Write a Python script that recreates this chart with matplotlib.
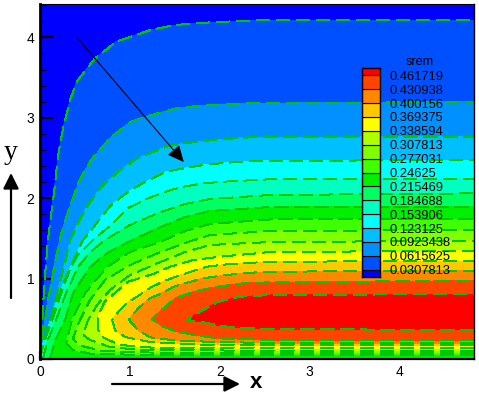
import matplotlib
matplotlib.use('Agg')
import matplotlib.pyplot as plt
import numpy as np

from matplotlib.ticker import MultipleLocator

plt.rcParams['font.family'] = ['Liberation Sans', 'DejaVu Sans']

level_labels = ['0.0307813', '0.0615625', '0.0923438', '0.123125', '0.153906',
                '0.184688', '0.215469', '0.24625', '0.277031', '0.307813',
                '0.338594', '0.369375', '0.400156', '0.430938', '0.461719']

band_colors = ['#0000ff', '#0050ff', '#0090ff', '#00bfff', '#00ffff', '#00ffc0',
               '#00ff60', '#00f000', '#40ff00', '#80ff00', '#b0ff00', '#ffff00',
               '#ffc800', '#ff8800', '#ff4400', '#ff0000']

# contour lines, one (x, y) list per level,
# upper branch left to right, lower branch only for the closed ones
upper_1 = [(0, 0), (.017, .236), (.033, .647), (.052, .983), (.07, 1.23), (.089, 1.48), (.134, 1.89),
           (.159, 2.1), (.2, 2.52), (.26, 2.89), (.334, 3.22), (.409, 3.45), (.612, 3.74), (.854, 3.95),
           (1.225, 4.09), (1.48, 4.15), (1.78, 4.18), (2.34, 4.21), (4.83, 4.216)]
upper_2 = [(0, 0), (.015, .2), (.052, .45), (.089, .73), (.126, .945), (.164, 1.19), (.219, 1.48),
           (.256, 1.64), (.349, 1.95), (.442, 2.23), (.568, 2.475), (.79, 2.76), (1.013, 2.95),
           (1.225, 3.03), (1.525, 3.12), (1.78, 3.15), (2.34, 3.18), (4.83, 3.2)]
upper_3 = [(0, 0), (.015, .15), (.07, .32), (.126, .525), (.181, .775), (.237, 1.02), (.293, 1.27),
           (.337, 1.48), (.423, 1.69), (.535, 1.915), (.683, 2.14), (.869, 2.33), (1.09, 2.5),
           (1.225, 2.56), (1.41, 2.64), (1.59, 2.68), (1.97, 2.73), (2.34, 2.757), (4.83, 2.765)]
upper_4 = [(0, 0), (.052, .236), (.126, .444), (.2, .693), (.275, .94), (.331, 1.107), (.386, 1.27),
           (.479, 1.48), (.571, 1.6), (.683, 1.77), (.794, 1.915), (.98, 2.08), (1.166, 2.2),
           (1.41, 2.33), (1.596, 2.37), (1.856, 2.42), (2.34, 2.463), (4.83, 2.475)]
upper_5 = [(0, 0), (.022, .15), (.078, .36), (.145, .585), (.223, .833), (.312, 1.082), (.423, 1.294),
           (.59, 1.48), (.776, 1.654), (.869, 1.754), (.98, 1.878), (1.203, 2.0), (1.448, 2.1),
           (1.592, 2.143), (1.815, 2.185), (2.038, 2.205), (2.561, 2.235), (4.83, 2.239)]
upper_6 = [(.03, 0), (.089, .236), (.178, .485), (.29, .82), (.423, 1.144), (.557, 1.33), (.724, 1.48),
           (1.002, 1.667), (1.314, 1.816), (1.615, 1.928), (1.893, 1.99), (2.561, 2.04), (4.83, 2.06)]
upper_7 = [(.11, 0), (.17, .236), (.278, .485), (.367, .82), (.557, 1.144), (.746, 1.318), (.98, 1.455),
           (1.314, 1.629), (1.615, 1.766), (1.893, 1.841), (2.561, 1.89), (4.83, 1.895)]
upper_8 = [(.29, .2), (.356, .485), (.501, .82), (.746, 1.144), (1.002, 1.33), (1.336, 1.455),
           (1.615, 1.592), (1.893, 1.68), (2.561, 1.735), (4.83, 1.74)]
lower_8 = [(.29, .2), (.37, .112), (.557, .068), (1.114, .05), (4.83, .05)]
upper_9 = [(.367, .257), (.445, .485), (.557, .734), (.724, .983), (1.002, 1.169), (1.314, 1.318),
           (1.615, 1.443), (1.893, 1.542), (2.561, 1.592), (4.83, 1.604)]
lower_9 = [(.367, .257), (.423, .174), (.668, .106), (1.114, .081), (4.83, .075)]
upper_10 = [(.479, .3), (.535, .485), (.635, .672), (.78, .858), (1.002, 1.045), (1.314, 1.194),
            (1.615, 1.331), (1.893, 1.418), (2.561, 1.455), (4.83, 1.47)]
lower_10 = [(.479, .3), (.557, .236), (.78, .15), (1.114, .112), (2.895, .1), (4.83, .1)]
upper_11 = [(.646, .506), (.665, .588), (.72, .713), (.85, .837), (.98, .961), (1.281, 1.066), (1.448, 1.148),
            (1.707, 1.231), (2.004, 1.272), (2.561, 1.331), (4.83, 1.346)]
lower_11 = [(.646, .506), (.646, .361), (.713, .261), (.891, .174), (1.225, .143), (2.895, .131), (4.83, .131)]
upper_12 = [(.802, .485), (.888, .61), (.98, .709), (1.091, .783), (1.24, .895), (1.411, .983),
            (1.634, 1.07), (1.856, 1.148), (2.116, 1.182), (2.561, 1.21), (4.83, 1.219)]
lower_12 = [(.802, .485), (.835, .361), (.947, .274), (1.225, .211), (1.782, .18), (2.895, .168), (4.83, .168)]
upper_13 = [(.988, .485), (1.091, .631), (1.225, .759), (1.314, .796), (1.481, .896), (1.615, .942),
            (1.815, 1.004), (2.079, 1.045), (2.339, 1.073), (2.561, 1.086), (4.83, 1.098)]
lower_13 = [(.988, .485), (1.091, .361), (1.225, .27), (1.514, .23), (1.96, .211), (2.895, .193), (4.83, .195)]
upper_14 = [(1.244, .494), (1.392, .65), (1.503, .755), (1.707, .837), (1.968, .899), (2.26, .942),
            (2.56, .954), (4.83, .974)]
lower_14 = [(1.244, .494), (1.373, .402), (1.522, .34), (1.704, .3), (1.968, .257), (2.56, .236), (4.83, .236)]
upper_15 = [(1.634, .485), (1.782, .588), (1.985, .713), (2.227, .775), (2.561, .796), (4.83, .808)]
lower_15 = [(1.634, .485), (1.782, .464), (2.004, .414), (2.19, .389), (2.56, .373), (4.83, .36)]

uppers = [upper_1, upper_2, upper_3, upper_4, upper_5, upper_6, upper_7, upper_8,
          upper_9, upper_10, upper_11, upper_12, upper_13, upper_14, upper_15]
lowers = [None, None, None, None, None, None, None, lower_8,
          lower_9, lower_10, lower_11, lower_12, lower_13, lower_14, lower_15]

WIDTH, HEIGHT = 479, 394
figure = plt.figure(figsize=(WIDTH / 100, HEIGHT / 100), dpi=100)

ax = figure.add_axes([40 / WIDTH, 1 - 359 / HEIGHT, 434 / WIDTH, 355 / HEIGHT])
ax.set_xlim(0, 4.83)
ax.set_ylim(0, 4.415)
ax.set_facecolor(band_colors[0])

for i, upper in enumerate(uppers):
    ux, uy = zip(*upper)
    if lowers[i] is None:
        px = list(ux) + [4.83, 0]
        py = list(uy) + [0, 0]
    else:
        lx, ly = zip(*lowers[i])
        px = list(ux) + list(lx[::-1])
        py = list(uy) + list(ly[::-1])
    ax.fill(px, py, color=band_colors[i + 1], lw=0, antialiased=False, zorder=i + 1)

# lines start at the right edge so the gaps of the flat part stack up
for i, upper in enumerate(uppers):
    ux, uy = zip(*upper)
    if lowers[i] is not None:
        lx, ly = zip(*lowers[i])
        ux = list(lx[::-1]) + list(ux[1:])
        uy = list(ly[::-1]) + list(uy[1:])
    ax.plot(ux, uy, color='#00c800', lw=1, dashes=(9.5, 4.5), antialiased=False, zorder=20)

ax.xaxis.set_major_locator(MultipleLocator(1))
ax.yaxis.set_major_locator(MultipleLocator(1))
ax.xaxis.set_minor_locator(MultipleLocator(.2))
ax.yaxis.set_minor_locator(MultipleLocator(.2))
ax.tick_params(axis='x', which='major', direction='in', length=6, width=1.6, labelsize=10, pad=4)
ax.tick_params(axis='x', which='minor', direction='in', length=3, width=.8)
ax.tick_params(axis='y', which='major', direction='in', length=9, width=1.6, labelsize=10, pad=4)
ax.tick_params(axis='y', which='minor', direction='in', length=4.5, width=.8)
for tick_line in ax.get_xticklines() + ax.get_yticklines():
    tick_line.set_zorder(30)
ax.spines['left'].set_linewidth(2)
ax.spines['bottom'].set_linewidth(1.6)
ax.spines['right'].set_linewidth(1)
ax.spines['top'].set_linewidth(.8)
for spine in ax.spines.values():
    spine.set_zorder(40)

ax.annotate('', xy=(1.6, 2.45), xytext=(.41, 4.0), zorder=50,
            arrowprops=dict(arrowstyle='-|>,head_length=1.0,head_width=.47', color='black', lw=.8,
                            mutation_scale=10, shrinkA=0, shrinkB=0))

levels = np.array([float(label) for label in level_labels])
step = levels[1] - levels[0]
edges = np.concatenate(([levels[0] - step / 2], levels, [levels[-1] + step / 2]))

cax = figure.add_axes([361.7 / WIDTH, 1 - 276.7 / HEIGHT, 18.6 / WIDTH, 208.4 / HEIGHT])
cax.bar(0, np.diff(edges), bottom=edges[:-1], width=1, color=band_colors, edgecolor='black', lw=.8)
cax.set_xlim(-.5, .5)
cax.set_ylim(edges[0], edges[-1])
cax.set_xticks([])
cax.yaxis.tick_right()
cax.set_yticks(levels, level_labels)
cax.tick_params(axis='y', length=0, pad=6.5, labelsize=9.3)
for spine in cax.spines.values():
    spine.set_linewidth(1)
figure.text(420 / WIDTH, 1 - 62 / HEIGHT, 'srem', fontsize=9.1, ha='center', va='center')

arrow_style = dict(arrowstyle='-|>,head_length=.94,head_width=.47', color='black', lw=1.6,
                   mutation_scale=10, shrinkA=0, shrinkB=0)
ax.annotate('', xy=(11, HEIGHT - 173), xytext=(11, HEIGHT - 298), xycoords='figure pixels',
            textcoords='figure pixels', annotation_clip=False, arrowprops=arrow_style)
ax.annotate('', xy=(240, HEIGHT - 384), xytext=(112, HEIGHT - 384), xycoords='figure pixels',
            textcoords='figure pixels', annotation_clip=False, arrowprops=arrow_style)
figure.text(11 / WIDTH, 1 - 152 / HEIGHT, 'y', fontsize=20, family='Liberation Serif', ha='center', va='center')
figure.text(256 / WIDTH, 1 - 383 / HEIGHT, 'x', fontsize=16, fontweight='bold', ha='center', va='center')

figure.savefig('out.png', dpi=100)
